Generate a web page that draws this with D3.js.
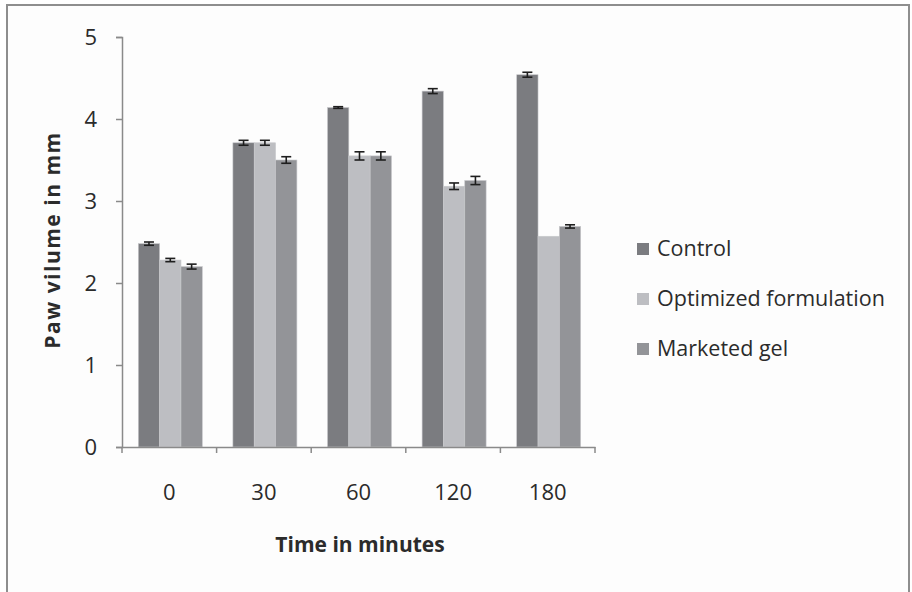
<!DOCTYPE html>
<html>
<head>
<meta charset="utf-8">
<script src="https://cdn.jsdelivr.net/npm/d3@7"></script>
<style>
  body { margin: 0; background: #fff; }
  text { font-family: "Open Sans", Lato, sans-serif; fill: #2b2b2b; }
</style>
</head>
<body>
<script>
let width = 912;
let height = 592;

// data
let times = ["0", "30", "60", "120", "180"];
let seriesNames = ["Control", "Optimized formulation", "Marketed gel"];
let control = [2.48, 3.71, 4.14, 4.34, 4.54];
let optimized = [2.28, 3.71, 3.55, 3.18, 2.57];
let marketed = [2.2, 3.5, 3.55, 3.25, 2.69];
let controlErr = [0.02, 0.03, 0.01, 0.03, 0.03];
let optimizedErr = [0.02, 0.03, 0.05, 0.04, 0.0];
let marketedErr = [0.03, 0.04, 0.05, 0.05, 0.02];
let yTicks = [0, 1, 2, 3, 4, 5];

let colors = ["#7b7c80", "#bdbec2", "#939498"];
let fontFamily = "'Open Sans', Lato, sans-serif";

let svg = d3
  .select("body")
  .append("svg")
  .attr("width", width)
  .attr("height", height);

// outer frame
svg
  .append("rect")
  .attr("x", 7)
  .attr("y", 5)
  .attr("width", 902)
  .attr("height", 590)
  .attr("fill", "#fdfdfd")
  .attr("stroke", "#8e8e8e")
  .attr("stroke-width", 2);

let plotLeft = 122;
let plotRight = 595;
let plotTop = 37;
let plotBottom = 447;

let x = d3.scaleBand().domain(times).range([plotLeft, plotRight]);
let x1 = d3
  .scaleBand()
  .domain(seriesNames)
  .range([0, 64])
  .padding(0);
let y = d3.scaleLinear().domain([0, 5]).range([plotBottom, plotTop]);

let rows = times.map((t, i) => ({
  time: t,
  values: [
    { name: seriesNames[0], v: control[i], e: controlErr[i], c: colors[0] },
    { name: seriesNames[1], v: optimized[i], e: optimizedErr[i], c: colors[1] },
    { name: seriesNames[2], v: marketed[i], e: marketedErr[i], c: colors[2] }
  ]
}));

let groups = svg
  .selectAll(".group")
  .data(rows)
  .enter()
  .append("g")
  .attr("transform", function(d) {
    return "translate(" + (x(d.time) + (x.bandwidth() - 64) / 2 + 1) + ",0)";
  });

groups
  .selectAll("rect")
  .data(d => d.values)
  .enter()
  .append("rect")
  .attr("x", d => x1(d.name))
  .attr("y", d => y(d.v))
  .attr("width", x1.bandwidth())
  .attr("height", d => plotBottom - y(d.v))
  .attr("fill", d => d.c)
  .attr("stroke", "#c8c9cc")
  .attr("stroke-width", 0.6);

// error bars
let errs = groups
  .selectAll(".err")
  .data(d => d.values.filter(v => v.e > 0))
  .enter()
  .append("g")
  .attr("stroke", "#1e1e1e")
  .attr("stroke-width", 1.6);
errs
  .append("line")
  .attr("x1", d => x1(d.name) + x1.bandwidth() / 2)
  .attr("x2", d => x1(d.name) + x1.bandwidth() / 2)
  .attr("y1", d => y(d.v + d.e))
  .attr("y2", d => y(d.v - d.e));
errs
  .append("line")
  .attr("x1", d => x1(d.name) + x1.bandwidth() / 2 - 5)
  .attr("x2", d => x1(d.name) + x1.bandwidth() / 2 + 5)
  .attr("y1", d => y(d.v + d.e))
  .attr("y2", d => y(d.v + d.e));
errs
  .append("line")
  .attr("x1", d => x1(d.name) + x1.bandwidth() / 2 - 5)
  .attr("x2", d => x1(d.name) + x1.bandwidth() / 2 + 5)
  .attr("y1", d => y(d.v - d.e))
  .attr("y2", d => y(d.v - d.e));

// axes
let axisColor = "#8a8a8a";
let yAxis = svg
  .append("g")
  .attr("transform", "translate(" + plotLeft + ",0)")
  .call(d3.axisLeft(y).tickValues(yTicks).tickSize(6).tickPadding(19).tickFormat(d3.format("d")));
let xAxis = svg
  .append("g")
  .attr("transform", "translate(0," + plotBottom + ")")
  .call(d3.axisBottom(x).tickSize(0).tickPadding(37));

// boundary ticks between categories
svg
  .selectAll(".xtick")
  .data(times.concat(["end"]))
  .enter()
  .append("line")
  .attr("x1", (d, i) => plotLeft + i * x.step())
  .attr("x2", (d, i) => plotLeft + i * x.step())
  .attr("y1", plotBottom)
  .attr("y2", plotBottom + 6)
  .attr("stroke", axisColor)
  .attr("stroke-width", 1.5);

[yAxis, xAxis].forEach(function(a) {
  a.select(".domain").attr("stroke", axisColor).attr("stroke-width", 1.5);
  a.selectAll(".tick line").attr("stroke", axisColor).attr("stroke-width", 1.5);
  a.selectAll("text")
    .style("font-family", fontFamily)
    .style("font-size", "22px")
    .attr("fill", "#2b2b2b");
});

// axis titles
svg
  .append("text")
  .attr("transform", "translate(60,240) rotate(-90)")
  .attr("text-anchor", "middle")
  .style("font-size", "21px")
  .style("font-weight", "bold")
  .style("letter-spacing", "1.5px")
  .text("Paw vilume in mm");

svg
  .append("text")
  .attr("x", 360)
  .attr("y", 552)
  .attr("text-anchor", "middle")
  .style("font-size", "21px")
  .style("font-weight", "bold")
  .text("Time in minutes");

// legend
let legend = svg
  .selectAll(".legend")
  .data(seriesNames)
  .enter()
  .append("g")
  .attr("transform", (d, i) => "translate(637," + (249 + i * 50) + ")");
legend
  .append("rect")
  .attr("x", 0)
  .attr("y", -6)
  .attr("width", 12)
  .attr("height", 12)
  .attr("fill", (d, i) => colors[i]);
legend
  .append("text")
  .attr("x", 20)
  .attr("y", 7)
  .style("font-size", "21.5px")
  .text(d => d);
</script>
</body>
</html>
